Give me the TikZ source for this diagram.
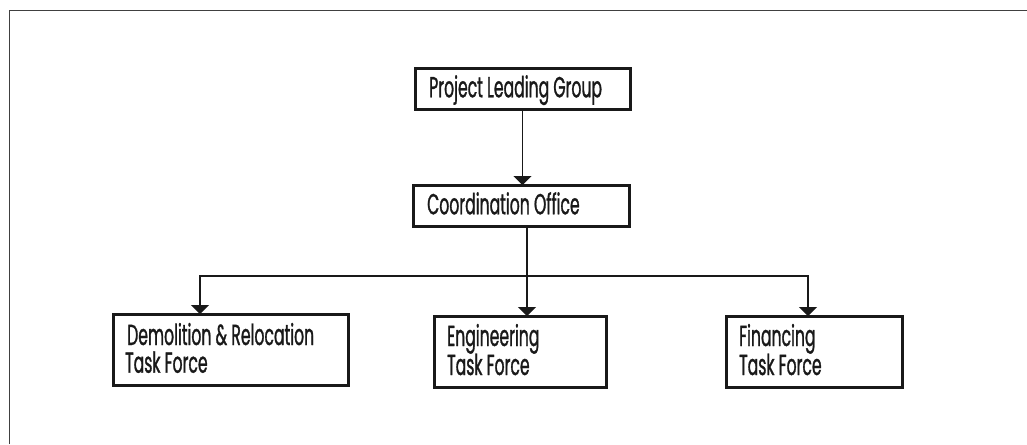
\documentclass[tikz,border=0pt]{standalone}
\usepackage{fontspec}
\setmainfont{Poppins}[FakeStretch=0.54,FakeBold=1.0]
\usetikzlibrary{arrows.meta}
\begin{document}
\begin{tikzpicture}[x=1pt,y=-1pt,
  box/.style={draw=black!90,line width=3pt,minimum width=#1,inner sep=0pt,outer sep=0pt},
  lbl/.style={anchor=base west,inner sep=0pt,font=\fontsize{29}{33}\selectfont,text=black!90},
  conn/.style={draw=black!90,line width=1.4pt},
  arr/.style={conn,-{Triangle[width=18pt,length=9pt]}}]
\useasboundingbox (0,0) rectangle (1027,444);
\draw[draw=black!75,line width=1.6pt] (9.5,444) -- (9.5,10.5) -- (1027,10.5);
\node[box=215pt,minimum height=41pt] (top) at (522.5,88.5) {};
\node[box=216pt,minimum height=41pt] (coord) at (521,205.5) {};
\node[box=235pt,minimum height=71pt] (demo) at (230.5,349.5) {};
\node[box=172pt,minimum height=71pt] (eng) at (520,351.5) {};
\node[box=176pt,minimum height=71pt] (fin) at (814,351.5) {};
\node[lbl] (topt) at (429,97.3) {Project Leading Group};
\node[lbl] (coordt) at (427,214.3) {Coordination Office};
\node[lbl] (demot1) at (127,345) {Demolition \& Relocation};
\node[lbl] (demot2) at (125,372.7) {Task Force};
\node[lbl] (engt1) at (447,346) {Engineering};
\node[lbl] (engt2) at (447,375) {Task Force};
\node[lbl] (fint1) at (739,346) {Financing};
\node[lbl] (fint2) at (739,375) {Task Force};
\coordinate (j) at (527,276);
\coordinate (jl) at (200,276);
\coordinate (jr) at (808,276);
\draw[arr] (top.south) -- (top.south |- coord.north);
\draw[arr] (j |- coord.south) -- (j |- eng.north);
\draw[arr] (j) -- (jl) -- (jl |- demo.north);
\draw[arr] (j) -- (jr) -- (jr |- fin.north);
\end{tikzpicture}
\end{document}
